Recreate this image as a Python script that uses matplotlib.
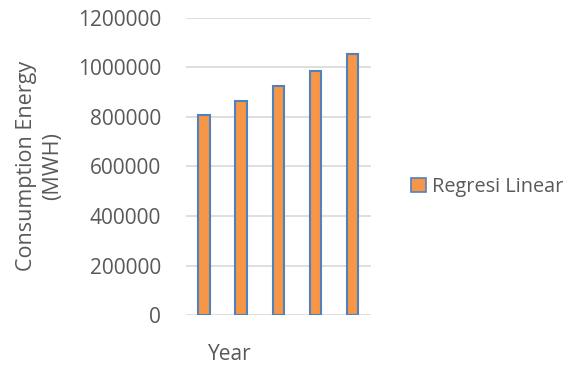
import matplotlib.pyplot as plt
from matplotlib.patches import Patch

# data
years = ["1", "2", "3", "4", "5"]
regresi_linear = [808000, 866000, 925000, 987000, 1054500]
y_ticks = [0, 200000, 400000, 600000, 800000, 1000000, 1200000]

plt.rcParams['font.family'] = ['Open Sans', 'DejaVu Sans']
text_color = "#595959"
fs = 15

fig = plt.figure(figsize=(5.7, 3.72), dpi=100)
ax = fig.add_axes([0.326, 0.153, 0.325, 0.799])

ax.bar(range(len(years)), regresi_linear, width=0.32, color="#F79646",
       edgecolor="#4F81BD", linewidth=1.5, zorder=3)

ax.set_ylim(0, 1200000)
ax.set_xlim(-0.5, len(years) - 0.5)
ax.set_yticks(y_ticks)
ax.set_yticklabels([str(v) for v in y_ticks], fontsize=fs, color=text_color)
ax.tick_params(axis="y", length=0, pad=18)
ax.set_xticks([])
ax.grid(axis="y", color="#D9D9D9", linewidth=1.2, zorder=0)
for s in ax.spines.values():
    s.set_visible(False)

fig.text(0.069, 0.553, "Consumption Energy\n(MWH)", rotation=90, ha="center",
         va="center", fontsize=15.5, color=text_color, linespacing=1.3)
fig.text(0.403, 0.048, "Year", ha="center", va="center", fontsize=fs,
         color=text_color)

fig.legend(handles=[Patch(facecolor="#F79646", edgecolor="#4F81BD", linewidth=1.2)],
           labels=["Regresi Linear"], loc="center left",
           bbox_to_anchor=(0.69, 0.497), frameon=False, fontsize=14.3,
           handlelength=0.75, handleheight=0.75, handletextpad=0.3,
           labelcolor=text_color)

fig.savefig("out.png", dpi=100)
